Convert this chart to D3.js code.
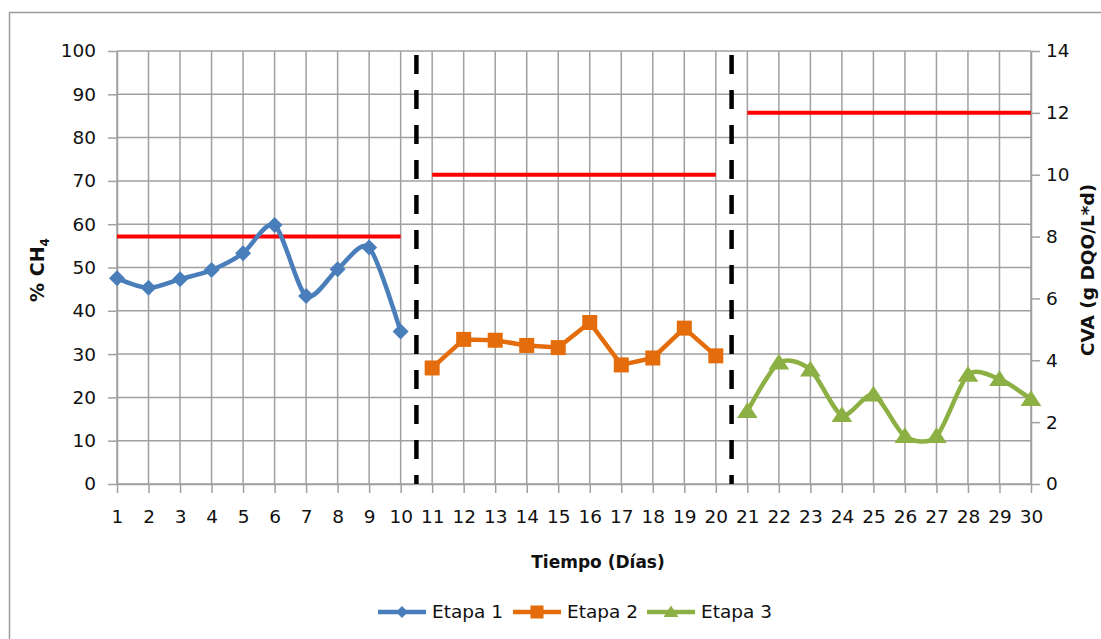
<!DOCTYPE html>
<html>
<head>
<meta charset="utf-8">
<script src="https://cdn.jsdelivr.net/npm/d3@7"></script>
<style>
  html, body { margin: 0; padding: 0; background: #fff; }
  svg { display: block; }
  text { font-family: "DejaVu Sans", Verdana, sans-serif; fill: #111; }
</style>
</head>
<body>
<svg id="chart" width="1101" height="639"></svg>
<script>
// Days of each stage
const days1 = [1, 2, 3, 4, 5, 6, 7, 8, 9, 10];
const days2 = [11, 12, 13, 14, 15, 16, 17, 18, 19, 20];
const days3 = [21, 22, 23, 24, 25, 26, 27, 28, 29, 30];

// % CH4 per stage
const etapa1 = [47.5, 45.3, 47.3, 49.4, 53.3, 59.8, 43.4, 49.6, 54.6, 35.2];
const etapa2 = [26.8, 33.4, 33.2, 32.0, 31.5, 37.3, 27.5, 29.1, 36.0, 29.6];
const etapa3 = [16.8, 28.0, 26.4, 15.9, 20.6, 11.0, 11.0, 25.2, 24.2, 19.6];

// Organic loading rate (CVA) for each stage, with its day range
const cvaValues = [8, 10, 12];
const cvaStart = [1, 11, 21];
const cvaEnd = [10, 20, 30];

// Stage boundaries
const stageBreaks = [10.5, 20.5];

// Tick values
const xTicks = d3.range(1, 31);
const yLeftTicks = d3.range(0, 101, 10);
const yRightTicks = d3.range(0, 15, 2);

const seriesNames = ["Etapa 1", "Etapa 2", "Etapa 3"];
const seriesColors = ["#4A7EBB", "#E46C0A", "#8CB043"];

const svg = d3.select("#chart");

// outer chart frame
svg.append("path")
  .attr("d", "M9.5,639 V12.5 H1101")
  .attr("fill", "none").attr("stroke", "#9a9a9a").attr("stroke-width", 1.5);

const plotLeft = 117, plotRight = 1031, plotTop = 51, plotBottom = 484;
const x = d3.scaleLinear().domain([1, 30]).range([plotLeft, plotRight]);
const yL = d3.scaleLinear().domain([0, 100]).range([plotBottom, plotTop]);
const yR = d3.scaleLinear().domain([0, 14]).range([plotBottom, plotTop]);

const gridColor = "#a0a0a0";

// grid
const grid = svg.append("g");
grid.selectAll("line.h").data(yLeftTicks).join("line")
  .attr("x1", plotLeft).attr("x2", plotRight)
  .attr("y1", d => yL(d)).attr("y2", d => yL(d))
  .attr("stroke", gridColor).attr("stroke-width", 1.5);
grid.selectAll("line.v").data(xTicks).join("line")
  .attr("x1", d => x(d)).attr("x2", d => x(d))
  .attr("y1", plotTop).attr("y2", plotBottom)
  .attr("stroke", gridColor).attr("stroke-width", 1.5);

// axes
function styleAxis(g) {
  g.select(".domain").attr("stroke", gridColor).attr("stroke-width", 1.5);
  g.selectAll(".tick line").attr("stroke", gridColor).attr("stroke-width", 1.5);
  g.selectAll(".tick text").attr("font-size", 18.5).attr("fill", "#111")
    .attr("font-family", "DejaVu Sans, Verdana, sans-serif");
}

svg.append("g").attr("transform", `translate(${plotLeft},0)`)
  .call(d3.axisLeft(yL).tickValues(yLeftTicks).tickSize(9).tickPadding(12).tickSizeOuter(0))
  .call(styleAxis);

svg.append("g").attr("transform", `translate(${plotRight},0)`)
  .call(d3.axisRight(yR).tickValues(yRightTicks).tickSize(9).tickPadding(6).tickSizeOuter(0))
  .call(styleAxis);

svg.append("g").attr("transform", `translate(0,${plotBottom})`)
  .call(d3.axisBottom(x).tickValues(xTicks).tickSize(9).tickPadding(17).tickSizeOuter(0))
  .call(styleAxis);

// stage separators
svg.selectAll("line.sep").data(stageBreaks).join("line")
  .attr("x1", d => x(d)).attr("x2", d => x(d))
  .attr("y1", 55).attr("y2", plotBottom)
  .attr("stroke", "#000").attr("stroke-width", 4.5)
  .attr("stroke-dasharray", "19,16");

// CVA levels
svg.selectAll("line.cva").data(cvaValues).join("line")
  .attr("x1", (d, i) => x(cvaStart[i])).attr("x2", (d, i) => x(cvaEnd[i]))
  .attr("y1", d => yR(d)).attr("y2", d => yR(d))
  .attr("stroke", "#FF0000").attr("stroke-width", 4);

// series
const smooth = d3.curveCardinal.tension(0.2);
const series = [
  { days: days1, vals: etapa1, curve: smooth, marker: "diamond" },
  { days: days2, vals: etapa2, curve: d3.curveLinear, marker: "square" },
  { days: days3, vals: etapa3, curve: smooth, marker: "triangle" }
];

function markerPath(type, s) {
  if (type === "diamond") return `M0,${-s}L${s},0L0,${s}L${-s},0Z`;
  if (type === "square") return `M${-s},${-s}H${s}V${s}H${-s}Z`;
  return `M0,${-s}L${s * 1.15},${s * 0.75}H${-s * 1.15}Z`;
}

series.forEach((s, i) => {
  const pts = s.days.map((d, j) => [x(d), yL(s.vals[j])]);
  svg.append("path")
    .attr("d", d3.line().curve(s.curve)(pts))
    .attr("fill", "none").attr("stroke", seriesColors[i]).attr("stroke-width", 4.5)
    .attr("stroke-linejoin", "round");
  const size = s.marker === "diamond" ? 8 : s.marker === "square" ? 7.5 : 9;
  svg.append("g").selectAll("path").data(pts).join("path")
    .attr("transform", d => `translate(${d[0]},${d[1]})`)
    .attr("d", markerPath(s.marker, size))
    .attr("fill", seriesColors[i]);
});

// axis titles
svg.append("text")
  .attr("x", 598).attr("y", 568)
  .attr("text-anchor", "middle").attr("font-size", 17).attr("font-weight", "bold")
  .text("Tiempo (Días)");

const yTitle = svg.append("text")
  .attr("transform", "translate(44,270) rotate(-90)")
  .attr("text-anchor", "middle").attr("font-size", 19).attr("font-weight", "bold");
yTitle.append("tspan").text("% CH");
yTitle.append("tspan").attr("font-size", 12).attr("dy", 5).text("4");

svg.append("text")
  .attr("transform", "translate(1094,270) rotate(-90)")
  .attr("text-anchor", "middle").attr("font-size", 18.5).attr("font-weight", "bold")
  .text("CVA (g DQO/L*d)");

// legend
const legendX = [378, 513, 647];
const legend = svg.append("g");
seriesNames.forEach((name, i) => {
  const g = legend.append("g").attr("transform", `translate(${legendX[i]},612)`);
  g.append("line").attr("x1", 0).attr("x2", 48).attr("y1", 0).attr("y2", 0)
    .attr("stroke", seriesColors[i]).attr("stroke-width", 4.5);
  const m = series[i].marker;
  g.append("path").attr("transform", "translate(24,0)")
    .attr("d", markerPath(m, m === "diamond" ? 6 : m === "square" ? 6.5 : 6.5))
    .attr("fill", seriesColors[i]);
  g.append("text").attr("x", 54).attr("y", 0).attr("dy", "0.35em")
    .attr("font-size", 18.5).text(name);
});
</script>
</body>
</html>
